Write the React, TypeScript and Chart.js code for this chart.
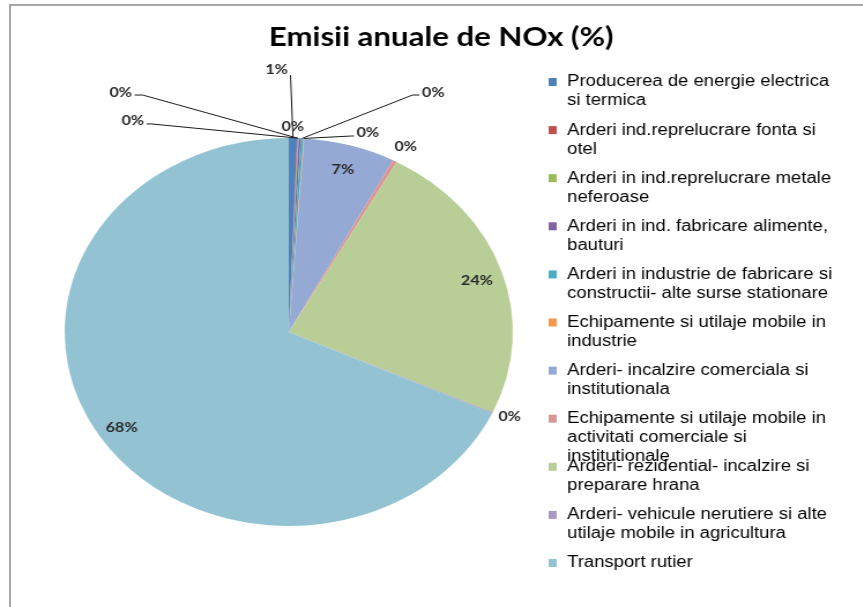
import React, { useEffect, useRef } from "react";
import { Chart, registerables } from "chart.js";

Chart.register(...registerables);

const TITLE = "Emisii anuale de NOx (%)";

const CATEGORIES: string[][] = [
  ["Producerea de energie electrica", "si termica"],
  ["Arderi ind.reprelucrare fonta si", "otel"],
  ["Arderi in ind.reprelucrare metale", "neferoase"],
  ["Arderi in ind. fabricare alimente,", "bauturi"],
  ["Arderi in industrie de fabricare si", "constructii- alte surse stationare"],
  ["Echipamente si utilaje mobile in", "industrie"],
  ["Arderi- incalzire comerciala si", "institutionala"],
  ["Echipamente si utilaje mobile in", "activitati comerciale si", "institutionale"],
  ["Arderi- rezidential- incalzire si", "preparare hrana"],
  ["Arderi- vehicule nerutiere si alte", "utilaje mobile in agricultura"],
  ["Transport rutier"],
];

const VALUES: number[] = [0.6, 0.05, 0.05, 0.15, 0.2, 0.05, 6.6, 0.3, 23.8, 0.1, 68.1];

const COLORS: string[] = [
  "#4F81BD",
  "#C0504D",
  "#9BBB59",
  "#8064A2",
  "#4BACC6",
  "#F79646",
  "#95A9D5",
  "#D99694",
  "#B8CE96",
  "#A99BC0",
  "#93C3D3",
];

// ---- layout (internal canvas units; canvas is stretched horizontally) ----
const SX = 1.155;
const W_INT = 747;
const H = 607;
const PIE_PAD = { left: 56, top: 138, right: 303, bottom: 81 };
const INSIDE_R = 0.885;
const INSIDE_DY = 3;

type Lay = { dx: number; dy: number; leader?: [number, number, number] } | null;
// label centre as fractions of radius from pie centre; leader = [startDx, startDy, bendDx] (px from label centre)
const LABEL_LAYOUT: Lay[] = [
  { dx: -0.054, dy: -1.355, leader: [12, 6, 12] },
  { dx: -0.75, dy: -1.237, leader: [12, 3, 19] },
  { dx: -0.696, dy: -1.088, leader: [12, 3, 16] },
  { dx: 0.018, dy: -1.057 },
  { dx: 0.645, dy: -1.237, leader: [-12, 3, -18] },
  { dx: 0.353, dy: -1.031, leader: [-12, 4, -14] },
  null,
  { dx: 0.522, dy: -0.954 },
  null,
  { dx: 0.986, dy: 0.438 },
  null,
];

const LEGEND = { boxX: 475, textX: 491, firstY: 82, itemGap: 48.1, lineGap: 19, box: 7 };

const labelPlugin = {
  id: "sliceLabels",
  afterDatasetsDraw(chart: any) {
    const ctx = chart.ctx as CanvasRenderingContext2D;
    const meta = chart.getDatasetMeta(0);
    const data = chart.data.datasets[0].data as number[];
    const total = data.reduce((a, b) => a + b, 0);
    ctx.save();
    ctx.font = "bold 14px Lato";
    ctx.fillStyle = "#2b2b2b";
    ctx.strokeStyle = "#1a1a1a";
    ctx.lineWidth = 1;
    ctx.textAlign = "center";
    ctx.textBaseline = "middle";
    meta.data.forEach((el: any, i: number) => {
      const p = el.getProps(["x", "y", "startAngle", "endAngle", "outerRadius"], true);
      const mid = (p.startAngle + p.endAngle) / 2;
      const text = Math.round((data[i] / total) * 100) + "%";
      const lay = LABEL_LAYOUT[i];
      let lx: number, ly: number;
      if (!lay) {
        lx = p.x + Math.cos(mid) * p.outerRadius * INSIDE_R;
        ly = p.y + Math.sin(mid) * p.outerRadius * INSIDE_R + INSIDE_DY;
      } else {
        lx = p.x + lay.dx * p.outerRadius;
        ly = p.y + lay.dy * p.outerRadius;
        if (lay.leader) {
          const ex = p.x + Math.cos(mid) * p.outerRadius;
          const ey = p.y + Math.sin(mid) * p.outerRadius;
          const [sdx, sdy, bdx] = lay.leader;
          ctx.beginPath();
          ctx.moveTo(lx + sdx, ly + sdy);
          ctx.lineTo(lx + bdx, ly + sdy);
          ctx.lineTo(ex, ey);
          ctx.stroke();
        }
      }
      ctx.fillText(text, lx, ly);
    });
    ctx.restore();
  },
};

const textPlugin = {
  id: "titleLegend",
  afterDraw(chart: any) {
    const ctx = chart.ctx as CanvasRenderingContext2D;
    ctx.save();
    ctx.fillStyle = "#000";
    ctx.textAlign = "center";
    ctx.textBaseline = "middle";
    ctx.font = "bold 27px Lato";
    ctx.fillText(TITLE, 382, 37);
    ctx.font = "16px 'Liberation Sans', Arial, sans-serif";
    ctx.textAlign = "left";
    const labels = chart.data.labels as string[][];
    const colors = chart.data.datasets[0].backgroundColor as string[];
    labels.forEach((lines, i) => {
      const y0 = LEGEND.firstY + i * LEGEND.itemGap;
      ctx.fillStyle = colors[i];
      ctx.fillRect(LEGEND.boxX, y0 - LEGEND.box / 2 - 0.5, LEGEND.box, LEGEND.box + 1);
      ctx.fillStyle = "#000";
      lines.forEach((ln, j) => {
        ctx.fillText(ln, LEGEND.textX, y0 + j * LEGEND.lineGap);
      });
    });
    ctx.restore();
  },
};

export default function App() {
  const ref = useRef<HTMLCanvasElement | null>(null);
  useEffect(() => {
    if (!ref.current) return;
    const chart = new Chart(ref.current, {
      type: "pie",
      data: {
        labels: CATEGORIES as any,
        datasets: [
          {
            data: VALUES,
            backgroundColor: COLORS,
            borderWidth: 0,
          },
        ],
      },
      options: {
        responsive: false,
        animation: false,
        devicePixelRatio: 1,
        layout: { padding: PIE_PAD },
        plugins: {
          legend: { display: false },
          title: { display: false },
          tooltip: { enabled: false },
        },
      },
      plugins: [labelPlugin, textPlugin],
    });
    return () => chart.destroy();
  }, []);

  return (
    <div
      style={{
        position: "absolute",
        left: 0,
        top: 0,
        width: 863,
        height: 607,
        overflow: "hidden",
        background: "#fff",
      }}
    >
      <canvas
        ref={ref}
        width={W_INT}
        height={H}
        style={{
          width: W_INT + "px",
          height: H + "px",
          display: "block",
          transform: `scaleX(${SX})`,
          transformOrigin: "0 0",
        }}
      />
      <div
        style={{
          position: "absolute",
          left: 9,
          top: 4,
          right: 0,
          bottom: 0,
          borderTop: "2px solid #a8a8a8",
          borderLeft: "2px solid #a8a8a8",
        }}
      />
    </div>
  );
}
